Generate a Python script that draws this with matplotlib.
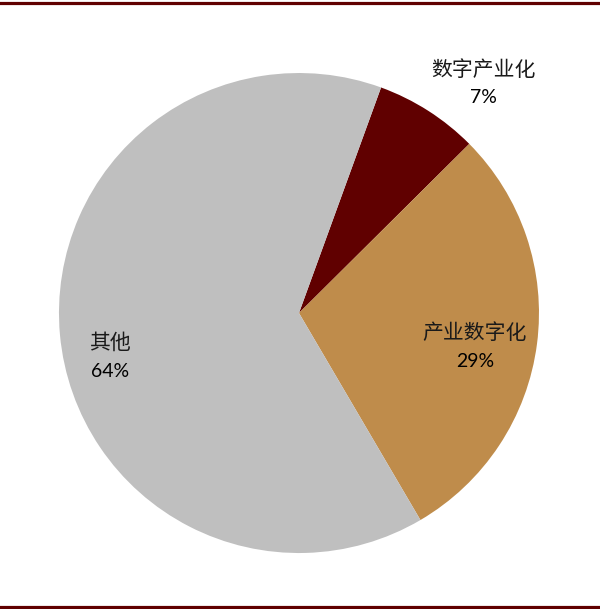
import matplotlib
matplotlib.use("Agg")
import matplotlib.pyplot as plt
from matplotlib.lines import Line2D

labels = ["数字产业化", "产业数字化", "其他"]
values = [7, 29, 64]
colors = ["#600000", "#BF8C4B", "#BFBFBF"]
pct_labels = ["7%", "29%", "64%"]

fig = plt.figure(figsize=(6.0, 6.09), dpi=100)
ax = fig.add_axes([-0.0017, -0.0066, 1.0, 600 / 609])
ax.pie(values, colors=colors, startangle=70, counterclock=False, radius=1.0,
       wedgeprops=dict(linewidth=0))
ax.set_xlim(-1.25, 1.25)
ax.set_ylim(-1.25, 1.25)
ax.set_aspect("equal")
ax.axis("off")

# label anchor positions (data units, pie radius = 1)
label_pos = [(0.767, 1.012), (0.733, -0.083), (-0.787, -0.125)]
pct_pos = [(0.767, 0.896), (0.733, -0.204), (-0.787, -0.242)]
for name, pct, (lx, ly), (px, py) in zip(labels, pct_labels, label_pos, pct_pos):
    ax.text(lx, ly, name, ha="center", va="center", fontsize=15,
            family=["Noto Sans CJK SC", "DejaVu Sans"], color="#1a1a1a")
    ax.text(px, py, pct, ha="center", va="center", fontsize=14,
            family=["Lato", "DejaVu Sans"], color="#000000")

line_color = "#600000"
fig.add_artist(Line2D([0, 1], [1 - 2.5 / 609, 1 - 2.5 / 609], color=line_color,
                      linewidth=2.3, transform=fig.transFigure))
fig.add_artist(Line2D([0, 1], [1 - 606.5 / 609, 1 - 606.5 / 609], color=line_color,
                      linewidth=2.3, transform=fig.transFigure))

fig.savefig("out.png", dpi=100)
